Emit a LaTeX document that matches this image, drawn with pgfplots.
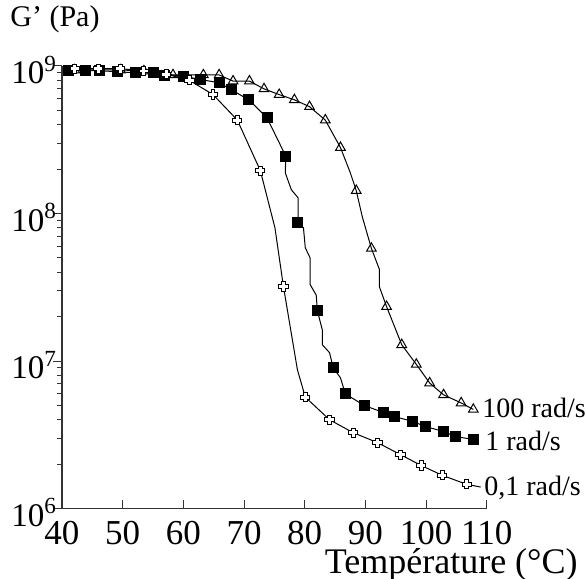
\documentclass[border=0pt]{standalone}
\usepackage{fontspec}
\setmainfont{Liberation Serif}
\usepackage{pgfplots}
\pgfplotsset{compat=1.18}
\pgfdeclareplotmark{hollowplus}{%
  \pgfpathmoveto{\pgfqpoint{-0.42\pgfplotmarksize}{\pgfplotmarksize}}%
  \pgfpathlineto{\pgfqpoint{0.42\pgfplotmarksize}{\pgfplotmarksize}}%
  \pgfpathlineto{\pgfqpoint{0.42\pgfplotmarksize}{0.42\pgfplotmarksize}}%
  \pgfpathlineto{\pgfqpoint{\pgfplotmarksize}{0.42\pgfplotmarksize}}%
  \pgfpathlineto{\pgfqpoint{\pgfplotmarksize}{-0.42\pgfplotmarksize}}%
  \pgfpathlineto{\pgfqpoint{0.42\pgfplotmarksize}{-0.42\pgfplotmarksize}}%
  \pgfpathlineto{\pgfqpoint{0.42\pgfplotmarksize}{-\pgfplotmarksize}}%
  \pgfpathlineto{\pgfqpoint{-0.42\pgfplotmarksize}{-\pgfplotmarksize}}%
  \pgfpathlineto{\pgfqpoint{-0.42\pgfplotmarksize}{-0.42\pgfplotmarksize}}%
  \pgfpathlineto{\pgfqpoint{-\pgfplotmarksize}{-0.42\pgfplotmarksize}}%
  \pgfpathlineto{\pgfqpoint{-\pgfplotmarksize}{0.42\pgfplotmarksize}}%
  \pgfpathlineto{\pgfqpoint{-0.42\pgfplotmarksize}{0.42\pgfplotmarksize}}%
  \pgfpathclose
  \pgfusepathqfillstroke}

% 100 rad/s
\pgfplotstableread{
T G
41.0 9.3e8
42.1 9.4e8
49.6 9.4e8
53.5 9.25e8
58.3 8.7e8
63.3 8.7e8
65.9 8.7e8
68.2 7.9e8
70.9 7.9e8
73.3 7.0e8
75.8 6.4e8
78.3 5.9e8
80.8 5.3e8
83.4 4.3e8
85.9 2.8e8
87.5 1.9e8
88.5 1.43e8
89.5 9.5e7
91.0 5.8e7
92.3 4.2e7
92.3 3.2e7
93.5 2.34e7
96.0 1.29e7
98.4 9.5e6
100.6 7.1e6
102.9 5.9e6
105.8 5.2e6
107.8 4.7e6
}\lineA
\pgfplotstableread{
T G
42.1 9.4e8
49.6 9.4e8
53.5 9.25e8
58.3 8.7e8
63.3 8.7e8
65.9 8.7e8
68.2 7.9e8
70.9 7.9e8
73.3 7.0e8
75.8 6.4e8
78.3 5.9e8
80.8 5.3e8
83.4 4.3e8
85.9 2.8e8
88.5 1.43e8
91.0 5.8e7
93.5 2.34e7
96.0 1.29e7
98.4 9.5e6
100.6 7.1e6
102.9 5.9e6
105.8 5.2e6
107.8 4.7e6
}\markA

% 1 rad/s
\pgfplotstableread{
T G
40.6 9.2e8
41.0 9.3e8
43.9 9.3e8
46.1 9.3e8
49.1 9.14e8
52.1 9.0e8
55.0 9.0e8
56.8 8.7e8
60.0 8.55e8
62.8 8.1e8
65.9 7.7e8
67.9 6.9e8
70.8 5.9e8
73.8 4.45e8
76.9 2.44e8
76.8 1.89e8
77.8 1.45e8
78.9 1.28e8
78.9 9.35e7
78.8 8.7e7
79.8 8.0e7
80.1 5.86e7
80.9 5.0e7
80.9 3.3e7
81.9 2.8e7
82.1 2.19e7
82.9 1.63e7
82.9 1.29e7
84.1 1.14e7
84.7 9.0e6
85.9 7.7e6
86.7 6.0e6
89.8 5.0e6
93.0 4.48e6
94.8 4.2e6
97.8 3.9e6
99.9 3.6e6
102.9 3.33e6
104.85 3.08e6
107.8 2.94e6
}\lineB
\pgfplotstableread{
T G
41.0 9.3e8
43.9 9.3e8
46.1 9.3e8
49.1 9.14e8
52.1 9.0e8
55.0 9.0e8
56.8 8.7e8
60.0 8.55e8
62.8 8.1e8
65.9 7.7e8
67.9 6.9e8
70.8 5.9e8
73.8 4.45e8
76.9 2.44e8
78.8 8.7e7
82.1 2.19e7
84.7 9.0e6
86.7 6.0e6
89.8 5.0e6
93.0 4.48e6
94.8 4.2e6
97.8 3.9e6
99.9 3.6e6
102.9 3.33e6
104.85 3.08e6
107.8 2.94e6
}\markB

% 0,1 rad/s
\pgfplotstableread{
T G
40.6 9.3e8
42.1 9.6e8
46.0 9.6e8
49.6 9.6e8
53.5 9.25e8
57.2 8.8e8
61.0 8.0e8
64.9 6.4e8
68.9 4.3e8
72.7 1.95e8
75.1 8.0e7
76.5 3.2e7
78.8 8.75e6
80.1 5.7e6
84.1 4.0e6
88.0 3.27e6
92.0 2.8e6
95.8 2.32e6
99.2 1.96e6
102.7 1.68e6
106.7 1.46e6
109.0 1.40e6
}\lineC
\pgfplotstableread{
T G
42.1 9.6e8
46.0 9.6e8
49.6 9.6e8
53.5 9.25e8
57.2 8.8e8
61.0 8.0e8
64.9 6.4e8
68.9 4.3e8
72.7 1.95e8
76.5 3.2e7
80.1 5.7e6
84.1 4.0e6
88.0 3.27e6
92.0 2.8e6
95.8 2.32e6
99.2 1.96e6
102.7 1.68e6
106.7 1.46e6
}\markC

\begin{document}
\begin{tikzpicture}[x=1pt,y=1pt]
\useasboundingbox (-31,-35.2) rectangle (262,254.3);
\begin{axis}[
  at={(0,0)}, anchor=south west,
  scale only axis, width=212.35pt, height=221.3pt,
  xmin=40, xmax=110,
  ymode=log, ymin=1e6, ymax=1e9,
  axis x line=bottom, axis y line=left,
  axis line style={-, line width=0.6pt, black!80},
  xtick={40,50,...,110},
  ytick={1e6,1e7,1e8,1e9},
  yticklabels={10\textsuperscript{6},10\textsuperscript{7},10\textsuperscript{8},10\textsuperscript{9}},
  minor ytick={2e6,3e6,4e6,5e6,6e6,7e6,8e6,9e6,2e7,3e7,4e7,5e7,6e7,7e7,8e7,9e7,2e8,3e8,4e8,5e8,6e8,7e8,8e8,9e8},
  tick align=outside,
  major tick length=4.5pt, minor tick length=2.5pt,
  every tick/.style={black!80, line width=0.5pt},
  x tick style={yshift=4.5pt},
  /pgf/number format/assume math mode=true,
  xticklabel style={font=\fontsize{17.5}{20}\selectfont, inner sep=0pt, yshift=-1.8pt},
  yticklabel style={font=\fontsize{16.5}{19}\selectfont, xshift=5.5pt, yshift=-2pt},
  clip=false,
]
\addplot[black, line width=0.5pt] table[x=T,y=G] {\lineA};
\addplot[black, line width=0.5pt] table[x=T,y=G] {\lineB};
\addplot[black, line width=0.5pt] table[x=T,y=G] {\lineC};
\addplot[only marks, mark=triangle, mark size=2.8pt, mark options={black, fill=white, line width=0.5pt}] table[x=T,y=G] {\markA};
\addplot[only marks, mark=square*, mark size=2.5pt, mark options={black, fill=black}] table[x=T,y=G] {\markB};
\addplot[only marks, mark=hollowplus, mark size=2.3pt, mark options={black, fill=white, line width=0.5pt}] table[x=T,y=G] {\markC};
\end{axis}
\node[anchor=west, inner sep=0pt, font=\fontsize{15}{18}\selectfont] at (-26,244.8) {G’ (Pa)};
\node[anchor=base east, inner sep=0pt, font=\fontsize{18}{22}\selectfont] at (258,-32.6) {Température (°C)};
\node[anchor=west, inner sep=0pt, font=\fontsize{14}{17}\selectfont] at (210,50.3) {100 rad/s};
\node[anchor=west, inner sep=0pt, font=\fontsize{14}{17}\selectfont] at (211.5,33.8) {1 rad/s};
\node[anchor=west, inner sep=0pt, font=\fontsize{14}{17}\selectfont] at (211,10.3) {0,1 rad/s};
\end{tikzpicture}
\end{document}
